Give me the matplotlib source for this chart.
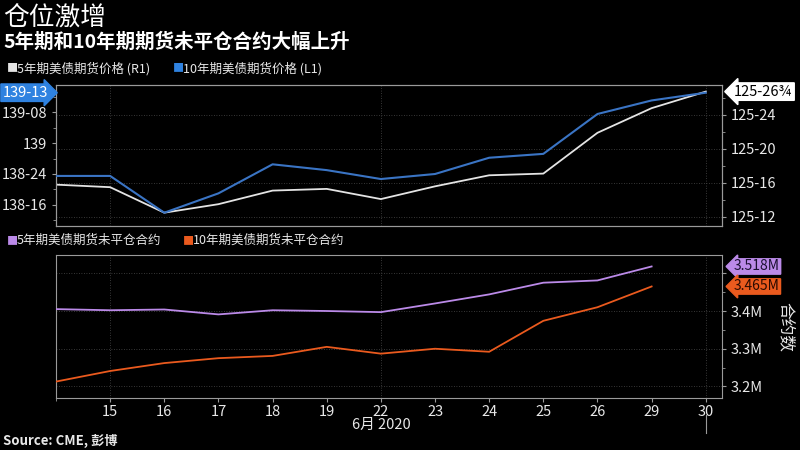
import matplotlib
matplotlib.use("Agg")
import matplotlib.pyplot as plt
from matplotlib.ticker import FixedLocator, FuncFormatter
from matplotlib.transforms import blended_transform_factory

plt.rcParams['font.family'] = ['Noto Sans CJK SC', 'DejaVu Sans']

### Data ###
days = ['12', '15', '16', '17', '18', '19', '22', '23', '24', '25', '26', '29', '30']
# 10年期 price (L1), 32nds
ten_year = [138 + 23.5 / 32, 138 + 23.5 / 32, 138 + 14 / 32, 138 + 19 / 32, 138 + 26.5 / 32,
            138 + 25 / 32, 138 + 22.7 / 32, 138 + 24 / 32, 138 + 28.2 / 32, 138 + 29.2 / 32,
            139 + 7.5 / 32, 139 + 11 / 32, 139 + 13 / 32]
# 5年期 price (R1), 32nds
five_year = [125 + 15.8 / 32, 125 + 15.5 / 32, 125 + 12.5 / 32, 125 + 13.5 / 32, 125 + 15.1 / 32,
             125 + 15.3 / 32, 125 + 14.1 / 32, 125 + 15.6 / 32, 125 + 16.9 / 32, 125 + 17.1 / 32,
             125 + 21.9 / 32, 125 + 24.8 / 32, 125 + 26.75 / 32]
# open interest, millions (through June 29)
oi_five = [3.405, 3.402, 3.404, 3.391, 3.402, 3.400, 3.397, 3.420, 3.444, 3.475, 3.481, 3.518]
oi_ten = [3.213, 3.241, 3.262, 3.275, 3.281, 3.305, 3.287, 3.300, 3.292, 3.374, 3.410, 3.465]

left_ticks = [138.5, 138.75, 139.0, 139.25]
right_ticks = [125.375, 125.5, 125.625, 125.75]
oi_ticks = [3.2, 3.3, 3.4, 3.5]

WHITE = '#e4e4e4'
BLUE = '#3a74c4'
BLUE_TAG = '#2f82e0'
PURPLE = '#bb8ae8'
ORANGE = '#ea5a1e'
GRID = '#4a4a4a'
SPINE = '#9a9a9a'
TXT = '#e8e8e8'


def fmt32(v, pos=None):
    whole = int(v)
    frac = round((v - whole) * 32 * 4) / 4
    n = int(frac)
    rest = frac - n
    if frac == 0:
        return str(whole)
    extra = {0.25: '¼', 0.5: '½', 0.75: '¾'}.get(rest, '')
    return '%d-%02d%s' % (whole, n, extra)


def fmt_m(v, pos=None):
    # 3.5M sits behind the value tags, so leave it blank
    if v > 3.45:
        return ''
    return '%.1fM' % v


def style_axis(ax):
    ax.set_facecolor('black')
    for s in ax.spines.values():
        s.set_color(SPINE)
        s.set_linewidth(0.8)
    ax.tick_params(colors=SPINE, labelcolor=TXT, labelsize=10.5, length=3, width=0.8)
    ax.tick_params(which='minor', colors=SPINE, length=2, width=0.6)


x = list(range(len(days)))
fig = plt.figure(figsize=(8, 4.5), dpi=100, facecolor='black')

### Top panel: prices ###
ax1 = fig.add_axes([0.07, 0.498, 0.8325, 0.313])
ax1r = ax1.twinx()
for a in (ax1, ax1r):
    style_axis(a)
ax1r.set_zorder(ax1.get_zorder() - 1)
ax1.patch.set_visible(False)

ax1.plot(x, ten_year, color=BLUE, lw=1.5, zorder=3)
ax1r.plot(x, five_year, color=WHITE, lw=1.3, zorder=3)

ax1.set_xlim(0, 12.3)
ax1.set_ylim(138.331, 139.468)
ax1r.set_ylim(125.342, 125.86)
ax1.yaxis.set_major_locator(FixedLocator(left_ticks))
ax1.yaxis.set_minor_locator(FixedLocator([138.375, 138.625, 138.875, 139.125, 139.375]))
ax1.yaxis.set_major_formatter(FuncFormatter(fmt32))
ax1r.yaxis.set_major_locator(FixedLocator(right_ticks))
ax1r.yaxis.set_minor_locator(FixedLocator([125.4375, 125.5625, 125.6875, 125.8125]))
ax1r.yaxis.set_major_formatter(FuncFormatter(fmt32))
ax1.set_xticks([])
ax1r.set_xticks([])
for t in right_ticks:
    ax1r.axhline(t, color=GRID, lw=0.6, ls=(0, (1, 2)), zorder=1)
for i in (1, 6, 12):
    ax1r.axvline(i, color=GRID, lw=0.6, ls=(0, (1, 2)), zorder=1)

# value tags
tl = blended_transform_factory(ax1.transAxes, ax1.transData)
ax1.text(-0.012, ten_year[-1], fmt32(ten_year[-1]), transform=tl, ha='right', va='center',
         fontsize=10.5, color='white', zorder=5, clip_on=False,
         bbox=dict(boxstyle='rarrow,pad=0.12', fc=BLUE_TAG, ec=BLUE_TAG))
tr = blended_transform_factory(ax1r.transAxes, ax1r.transData)
ax1r.text(1.018, five_year[-1], fmt32(five_year[-1]), transform=tr, ha='left', va='center',
          fontsize=10.5, color='black', zorder=5, clip_on=False,
          bbox=dict(boxstyle='larrow,pad=0.12', fc='white', ec='white'))

### Bottom panel: open interest ###
ax2 = fig.add_axes([0.07, 0.116, 0.8325, 0.317])
style_axis(ax2)
ax2.yaxis.tick_right()
ax2.yaxis.set_label_position('right')
ax2.plot(x[:len(oi_five)], oi_five, color=PURPLE, lw=1.3, zorder=3)
ax2.plot(x[:len(oi_ten)], oi_ten, color=ORANGE, lw=1.3, zorder=3)
ax2.set_xlim(0, 12.3)
ax2.set_ylim(3.17, 3.548)
ax2.yaxis.set_major_locator(FixedLocator(oi_ticks))
ax2.yaxis.set_minor_locator(FixedLocator([3.25, 3.35, 3.45]))
ax2.yaxis.set_major_formatter(FuncFormatter(fmt_m))
for t in oi_ticks:
    ax2.axhline(t, color=GRID, lw=0.6, ls=(0, (1, 2)), zorder=1)
for i in (1, 6, 12):
    ax2.axvline(i, color=GRID, lw=0.6, ls=(0, (1, 2)), zorder=1)
ax2.set_xticks(x[1:])
ax2.set_xticks([0], minor=True)
ax2.set_xticklabels(days[1:], fontsize=10.5)
ax2.tick_params(axis='x', pad=2)
ax2.set_ylabel('合约数', color=TXT, fontsize=12, rotation=-90, labelpad=22)
ax2.text(6, -0.19, '6月 2020', transform=blended_transform_factory(ax2.transData, ax2.transAxes),
         ha='center', va='center', color=TXT, fontsize=10.5)
ax2.plot([12, 12], [-0.12, -0.25], transform=blended_transform_factory(ax2.transData, ax2.transAxes),
         color=SPINE, lw=0.8, clip_on=False)

tr2 = blended_transform_factory(ax2.transAxes, ax2.transData)
ax2.text(1.018, oi_five[-1], '%.3fM' % oi_five[-1], transform=tr2,
         ha='left', va='center', fontsize=10, color='#1a1030', zorder=5, clip_on=False,
         bbox=dict(boxstyle='larrow,pad=0.05', fc=PURPLE, ec=PURPLE))
ax2.text(1.018, oi_ten[-1], '%.3fM' % oi_ten[-1], transform=tr2,
         ha='left', va='center', fontsize=10, color='#2a0a00', zorder=5, clip_on=False,
         bbox=dict(boxstyle='larrow,pad=0.05', fc=ORANGE, ec=ORANGE))

### Titles and legends ###
fig.text(0.004, 0.962, '仓位激增', color='white', fontsize=18.5, va='center')
fig.text(0.004, 0.905, '5年期和10年期期货未平仓合约大幅上升', color='white', fontsize=14,
         fontweight='bold', va='center')

fig.text(0.008, 0.848, '■', color=WHITE, fontsize=8, va='center')
fig.text(0.021, 0.848, '5年期美债期货价格 (R1)', color=TXT, fontsize=9, va='center')
fig.text(0.216, 0.848, '■', color=BLUE_TAG, fontsize=8, va='center')
fig.text(0.229, 0.848, '10年期美债期货价格 (L1)', color=TXT, fontsize=9, va='center')

fig.text(0.008, 0.465, '■', color=PURPLE, fontsize=8, va='center')
fig.text(0.021, 0.465, '5年期美债期货未平仓合约', color=TXT, fontsize=9, va='center')
fig.text(0.228, 0.465, '■', color=ORANGE, fontsize=8, va='center')
fig.text(0.241, 0.465, '10年期美债期货未平仓合约', color=TXT, fontsize=9, va='center')

fig.text(0.004, 0.02, 'Source: CME, 彭博', color=TXT, fontsize=9.5, fontweight='bold', va='center')

fig.savefig('out.png', dpi=100, facecolor='black')
